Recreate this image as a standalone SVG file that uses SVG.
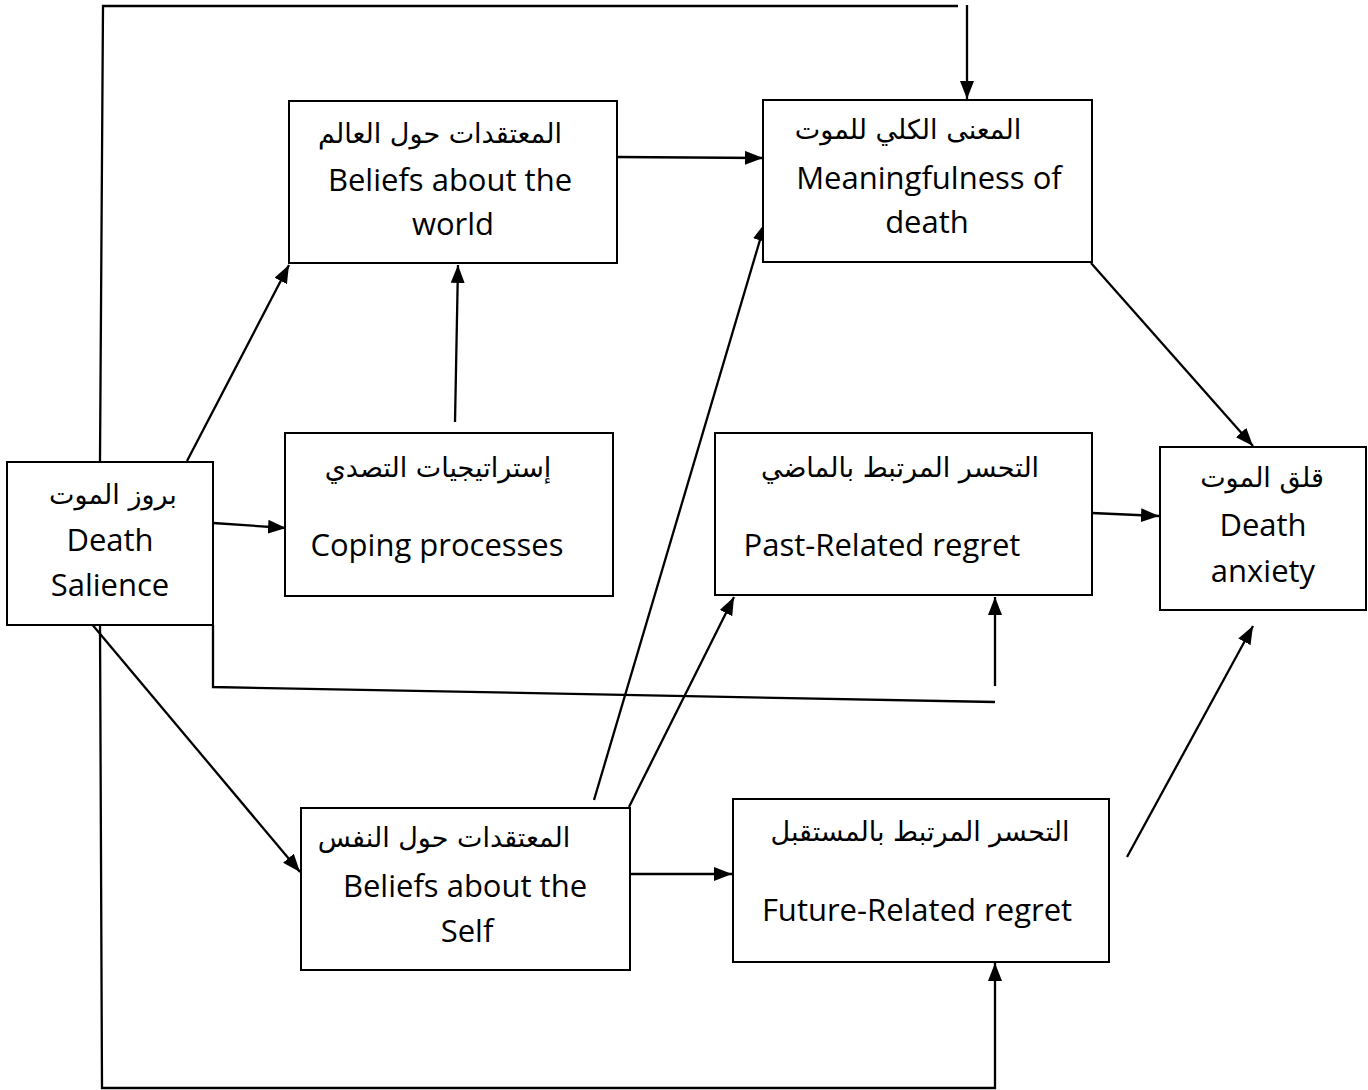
<svg xmlns="http://www.w3.org/2000/svg" width="1368" height="1090" viewBox="0 0 1368 1090">
<style>
.box{fill:#fff;stroke:#000;stroke-width:2}
.ln{fill:none;stroke:#000;stroke-width:2.3}
.ar{fill:none;stroke:#000;stroke-width:2.3;marker-end:url(#ah)}
.en{font-family:"Open Sans","Liberation Sans",sans-serif;font-size:31px;fill:#000;text-anchor:middle}
.ab{font-family:"DejaVu Sans","Noto Sans",sans-serif;font-size:27px;fill:#000;text-anchor:middle}
</style>
<defs>
<marker id="ah" viewBox="0 0 18 14" refX="18" refY="7" markerWidth="18" markerHeight="14" markerUnits="userSpaceOnUse" orient="auto">
<path d="M0,0 L18,7 L0,14 Z" fill="#000"/>
</marker>
</defs>
<g id="connectors">
<polyline class="ln" points="100,461 103,6 958,6"/>
<line class="ar" x1="967" y1="5" x2="967" y2="99"/>
<line class="ar" x1="187" y1="461" x2="289" y2="265"/>
<line class="ar" x1="213" y1="523" x2="286" y2="528"/>
<line class="ar" x1="455" y1="422" x2="458" y2="265"/>
<line class="ar" x1="617" y1="157" x2="763" y2="158"/>
<line class="ar" x1="1091" y1="263" x2="1253" y2="446"/>
<line class="ar" x1="1092" y1="513" x2="1159" y2="516"/>
<polyline class="ln" points="213,625 213,687 995,702"/>
<line class="ar" x1="995" y1="686" x2="995" y2="597"/>
<line class="ar" x1="80" y1="610" x2="300" y2="872"/>
<polyline class="ar" points="100,625 102,1088 995,1088 995,963"/>
<line class="ar" x1="594" y1="800" x2="765" y2="223"/>
<line class="ar" x1="629" y1="807" x2="734" y2="597"/>
<line class="ar" x1="629" y1="874" x2="732" y2="874"/>
<line class="ar" x1="1127" y1="857" x2="1253" y2="626"/>
</g>
<g id="death-salience">
<rect class="box" x="7" y="462" width="206" height="163"/>
<text class="ab" x="113" y="504">بروز الموت</text>
<text class="en" x="110" y="551">Death</text>
<text class="en" x="110" y="596">Salience</text>
</g>
<g id="beliefs-world">
<rect class="box" x="289" y="101" width="328" height="162"/>
<text class="ab" x="440" y="143">المعتقدات حول العالم</text>
<text class="en" x="450" y="191">Beliefs about the</text>
<text class="en" x="453" y="235">world</text>
</g>
<g id="coping">
<rect class="box" x="285" y="433" width="328" height="163"/>
<text class="ab" x="438" y="477">إستراتيجيات التصدي</text>
<text class="en" x="437" y="556">Coping processes</text>
</g>
<g id="meaningfulness">
<rect class="box" x="763" y="100" width="329" height="162"/>
<text class="ab" x="908" y="139">المعنى الكلي للموت</text>
<text class="en" x="929" y="189">Meaningfulness of</text>
<text class="en" x="927" y="233">death</text>
</g>
<g id="past-regret">
<rect class="box" x="715" y="433" width="377" height="162"/>
<text class="ab" x="900" y="477">التحسر المرتبط بالماضي</text>
<text class="en" x="882" y="556">Past-Related regret</text>
</g>
<g id="death-anxiety">
<rect class="box" x="1160" y="447" width="206" height="163"/>
<text class="ab" x="1262" y="487">قلق الموت</text>
<text class="en" x="1263" y="536">Death</text>
<text class="en" x="1263" y="582">anxiety</text>
</g>
<g id="beliefs-self">
<rect class="box" x="301" y="808" width="329" height="162"/>
<text class="ab" x="444" y="847">المعتقدات حول النفس</text>
<text class="en" x="465" y="897">Beliefs about the</text>
<text class="en" x="467" y="942">Self</text>
</g>
<g id="future-regret">
<rect class="box" x="733" y="799" width="376" height="163"/>
<text class="ab" x="920" y="841">التحسر المرتبط بالمستقبل</text>
<text class="en" x="917" y="921">Future-Related regret</text>
</g>
</svg>
